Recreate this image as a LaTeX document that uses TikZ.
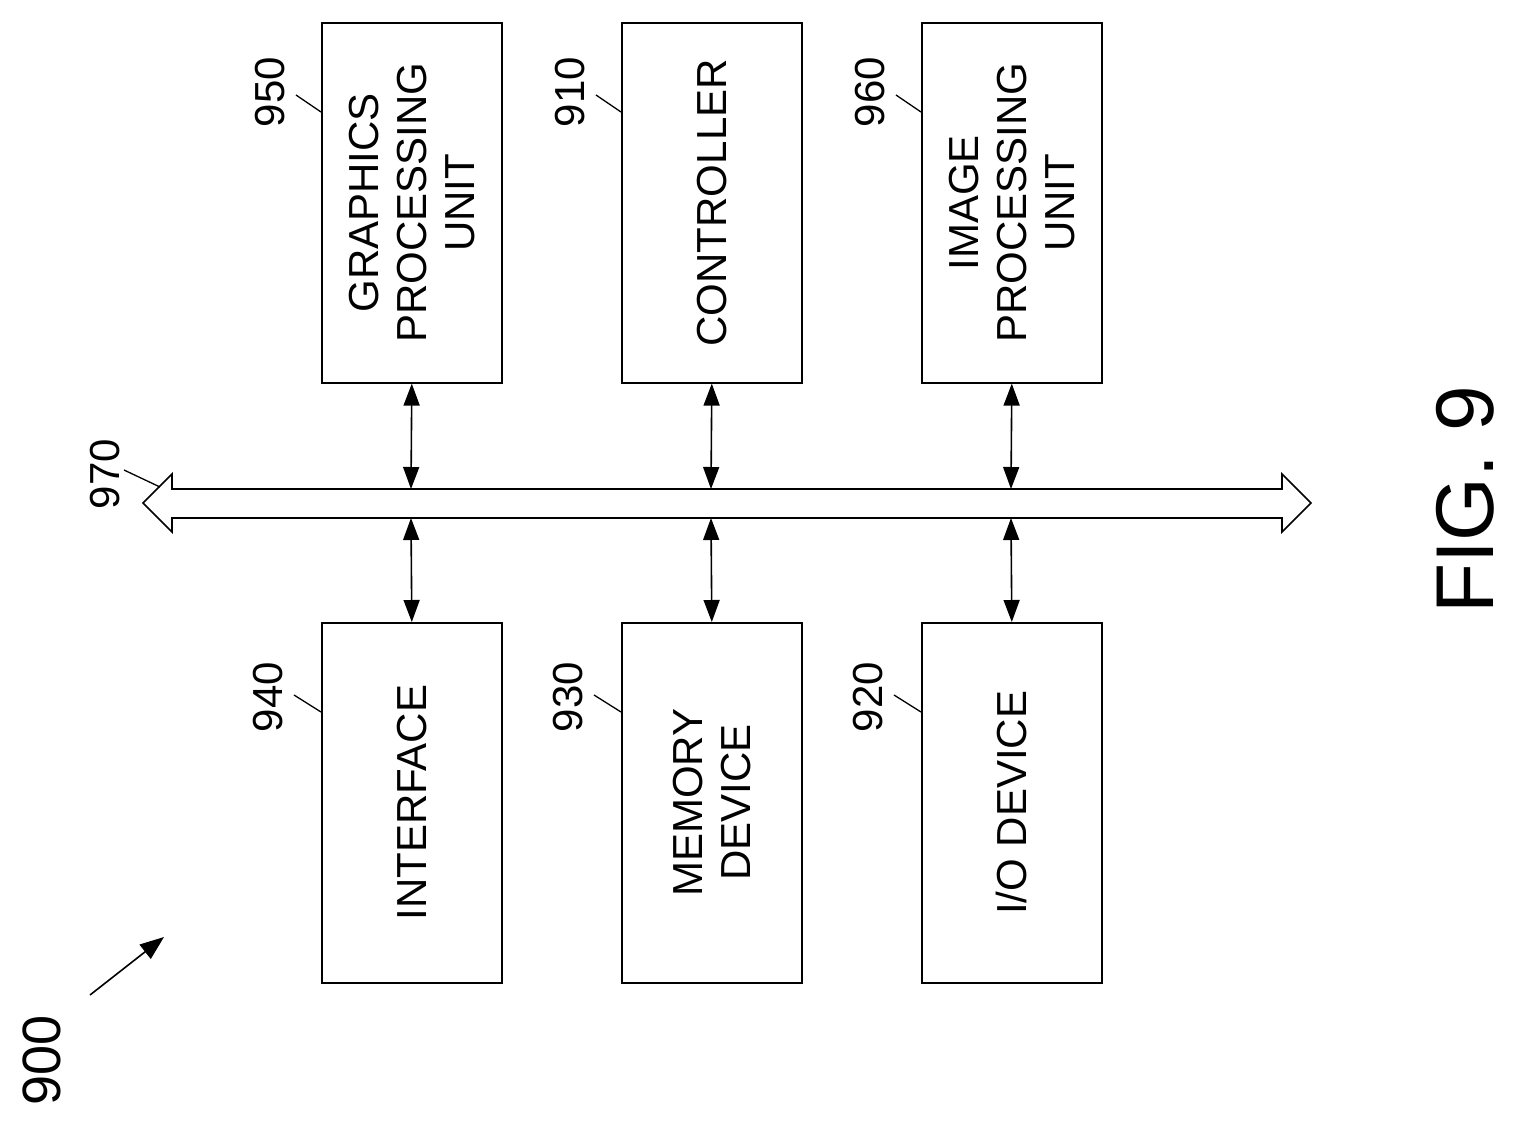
\documentclass[tikz,border=0pt]{standalone}
\usepackage{fontspec}
\setmainfont{Liberation Sans}
\usetikzlibrary{arrows.meta}
\begin{document}
\begin{tikzpicture}[x=1pt,y=-1pt,
  box/.style={draw,line width=1.6pt,minimum width=180pt,minimum height=360pt,anchor=north west},
  txt/.style={rotate=90,align=center,font=\fontsize{42}{48}\selectfont},
  lab/.style={rotate=90,font=\fontsize{42}{48}\selectfont},
  conn/.style={line width=1.6pt,{Triangle[length=22pt,width=16pt]}-{Triangle[length=22pt,width=16pt]}},
  lead/.style={line width=1.3pt}]
\useasboundingbox (0,0) rectangle (1513,1133);
\node[box] (gpu) at (321,22) {};
\node[box] (ctl) at (621,22) {};
\node[box] (ipu) at (921,22) {};
\node[box] (ifc) at (321,622) {};
\node[box] (mem) at (621,622) {};
\node[box] (io) at (921,622) {};
\node[txt] at (gpu.center) {GRAPHICS\\PROCESSING\\UNIT};
\node[txt] at (ctl.center) {CONTROLLER};
\node[txt] at (ipu.center) {IMAGE\\PROCESSING\\UNIT};
\node[txt] at (ifc.center) {INTERFACE};
\node[txt] at (mem.center) {MEMORY\\DEVICE};
\node[txt] at (io.center) {I/O DEVICE};
% bus
\draw[line width=1.6pt] (143,503) -- (172,474) -- (172,489) -- (1282,489) -- (1282,474) -- (1311,503) -- (1282,532) -- (1282,518) -- (172,518) -- (172,532) -- cycle;
\coordinate (bt1) at (411,489); \coordinate (bb1) at (411,518);
\coordinate (bt2) at (711,489); \coordinate (bb2) at (711,518);
\coordinate (bt3) at (1011,489); \coordinate (bb3) at (1011,518);
\draw[conn] (gpu.south) -- (bt1);
\draw[conn] (ctl.south) -- (bt2);
\draw[conn] (ipu.south) -- (bt3);
\draw[conn] (bb1) -- (ifc.north);
\draw[conn] (bb2) -- (mem.north);
\draw[conn] (bb3) -- (io.north);
% labels
\node[lab] (l950) at (270,92) {950};
\draw[lead] (296,95) -- (321,112);
\node[lab] (l910) at (570,92) {910};
\draw[lead] (596,95) -- (621,112);
\node[lab] (l960) at (870,92) {960};
\draw[lead] (896,95) -- (921,112);
\node[lab] (l940) at (268,697) {940};
\draw[lead] (294,695) -- (321,712);
\node[lab] (l930) at (568,697) {930};
\draw[lead] (594,695) -- (621,712);
\node[lab] (l920) at (868,697) {920};
\draw[lead] (894,695) -- (921,712);
\node[lab] (l970) at (105,474) {970};
\draw[lead] (124,470) -- (160,487);
\node[rotate=90,font=\fontsize{54}{60}\selectfont] (l900) at (42,1060) {900};
\coordinate (a900s) at (90,995);
\coordinate (a900e) at (164,937);
\draw[line width=1.6pt,-{Triangle[length=24pt,width=18pt]}] (a900s) -- (a900e);
\node[rotate=90,font=\fontsize{82}{90}\selectfont] (fig) at (1465,500) {FIG. 9};
\end{tikzpicture}
\end{document}
